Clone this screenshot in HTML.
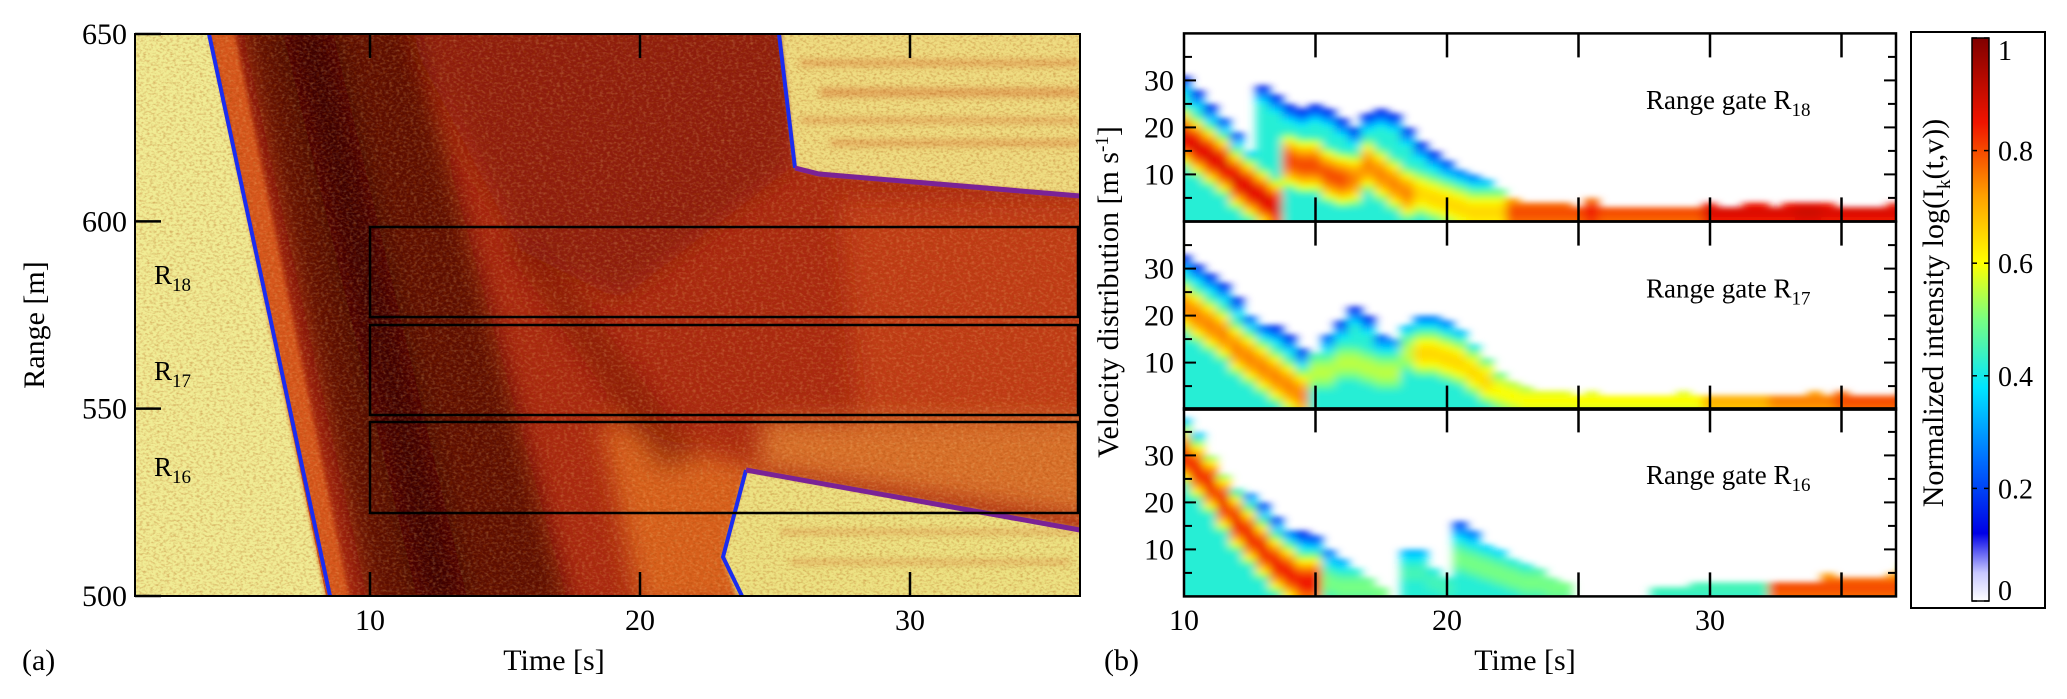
<!DOCTYPE html>
<html><head><meta charset="utf-8">
<style>
html,body{margin:0;padding:0;background:#fff;}
svg{display:block;}
text{font-family:"Liberation Serif",serif;fill:#000;}
</style></head>
<body>
<svg id="fig" width="2067" height="699" viewBox="0 0 2067 699" xmlns="http://www.w3.org/2000/svg">
<defs>
  <clipPath id="clipA"><rect x="135" y="34" width="945" height="562"/></clipPath>
  <filter id="soft" x="-5%" y="-5%" width="110%" height="110%"><feGaussianBlur stdDeviation="12"/></filter>
  <filter id="soft2"><feGaussianBlur stdDeviation="2.2"/></filter>
  <filter id="soft3"><feGaussianBlur stdDeviation="3.5"/></filter>
  <filter id="softB" x="-2%" y="-5%" width="104%" height="110%"><feGaussianBlur stdDeviation="5 3"/></filter>
  <filter id="noise" x="0" y="0" width="100%" height="100%">
    <feTurbulence type="fractalNoise" baseFrequency="0.3 0.45" numOctaves="2" seed="3"/>
    <feColorMatrix type="matrix" values="0 0 0 0 0.35  0 0 0 0 0.05  0 0 0 0 0  0 0 0 -2.2 1.25"/>
  </filter>
  <filter id="noiseL" x="0" y="0" width="100%" height="100%">
    <feTurbulence type="fractalNoise" baseFrequency="0.28 0.4" numOctaves="2" seed="9"/>
    <feColorMatrix type="matrix" values="0 0 0 0 1  0 0 0 0 0.75  0 0 0 0 0.3  0 0 0 -2.2 1.2"/>
  </filter>
  <linearGradient id="cbar" x1="0" y1="1" x2="0" y2="0">
    <stop offset="0" stop-color="#ffffff"/>
    <stop offset="0.05" stop-color="#c8c8ff"/>
    <stop offset="0.12" stop-color="#0000e6"/>
    <stop offset="0.25" stop-color="#006eff"/>
    <stop offset="0.38" stop-color="#00e6ff"/>
    <stop offset="0.5" stop-color="#78ff82"/>
    <stop offset="0.6" stop-color="#ffff00"/>
    <stop offset="0.72" stop-color="#ffa000"/>
    <stop offset="0.85" stop-color="#f01400"/>
    <stop offset="1" stop-color="#800000"/>
  </linearGradient>
</defs>

<g id="panelA">
  <g clip-path="url(#clipA)">
    <rect x="135" y="34" width="945" height="562" fill="#aa2810"/>
    <g filter="url(#soft)">
      <polygon points="400,20 800,20 790,168 620,300 520,250" fill="#8e1a0a"/>
      <polygon points="600,420 760,470 760,610 640,610" fill="#d8601c"/>
      <polygon points="840,200 1100,200 1100,420 860,420" fill="#c03a16"/>
      <polygon points="760,420 1100,420 1100,520 760,470" fill="#d8702a"/>
      <polygon points="240,20 410,20 570,610 370,610" fill="#5c0b05"/>
      <polygon points="280,20 330,20 470,610 420,610" fill="#3e0603"/>
      <polygon points="500,240 540,240 700,460 660,470" fill="#7a1408" opacity="0.6"/>
    </g>
    <polygon points="120,20 207,20 329,610 120,610" fill="#f0ec94"/>
    <polygon points="207,20 232,20 352,610 329,610" fill="#d6561a" filter="url(#soft2)"/>
    <polygon points="779,20 1100,20 1100,197 819,174 795,168" fill="#eedc80" filter="url(#soft2)"/>
    <polygon points="742,610 723,557 746,470 1100,532 1100,610" fill="#ece282" filter="url(#soft2)"/>
    <g fill="#d05a20" opacity="0.45" filter="url(#soft3)">
      <rect x="800" y="60" width="280" height="6"/><rect x="820" y="88" width="260" height="9"/>
      <rect x="800" y="118" width="280" height="5"/><rect x="830" y="140" width="250" height="6"/>
      <rect x="780" y="530" width="300" height="4"/><rect x="790" y="560" width="280" height="4"/>
    </g>
    <rect x="135" y="34" width="945" height="562" filter="url(#noise)" opacity="0.35"/>
    <rect x="135" y="34" width="945" height="562" filter="url(#noiseL)" opacity="0.25"/>
  </g>
  <polyline points="209,34 330,596" fill="none" stroke="#1a2cf0" stroke-width="4"/>
  <polyline points="779,34 795,168" fill="none" stroke="#1a2cf0" stroke-width="4"/>
  <polyline points="795,168 819,174 1080,196" fill="none" stroke="#7a2296" stroke-width="5"/>
  <polyline points="742,596 723,557 746,470" fill="none" stroke="#1a2cf0" stroke-width="4"/>
  <polyline points="746,470 1080,530" fill="none" stroke="#7a2296" stroke-width="5"/>
  <rect x="370" y="227" width="708" height="90" fill="none" stroke="#000" stroke-width="2.5"/>
  <rect x="370" y="325" width="708" height="90" fill="none" stroke="#000" stroke-width="2.5"/>
  <rect x="370" y="422" width="708" height="91" fill="none" stroke="#000" stroke-width="2.5"/>
  <rect x="135" y="34" width="945" height="562" fill="none" stroke="#000" stroke-width="2"/>
  <g id="axesA"></g>
  <text x="154" y="284" font-size="27">R<tspan font-size="19" dy="7">18</tspan></text>
  <text x="154" y="380" font-size="27">R<tspan font-size="19" dy="7">17</tspan></text>
  <text x="154" y="476" font-size="27">R<tspan font-size="19" dy="7">16</tspan></text>
  <text x="0" y="0" font-size="30" text-anchor="middle" transform="translate(44,325) rotate(-90)">Range [m]</text>
  <text x="554" y="670" font-size="30" text-anchor="middle">Time [s]</text>
  <text x="22" y="670" font-size="30">(a)</text>
</g>

<g id="panelB">
  <g id="heatB"></g>
  <g id="axesB"></g>
  <text x="0" y="0" font-size="30" text-anchor="middle" transform="translate(1118,292) rotate(-90)">Velocity distribution [m s<tspan font-size="19" dy="-10">-1</tspan><tspan dy="10">]</tspan></text>
  <text x="1525" y="670" font-size="30" text-anchor="middle">Time [s]</text>
  <text x="1104" y="670" font-size="30">(b)</text>
</g>

<g id="cb">
  <rect x="1911" y="32" width="134" height="576" fill="#fff" stroke="#000" stroke-width="2"/>
  <rect x="1972" y="38" width="17" height="563" fill="url(#cbar)" stroke="#000" stroke-width="1.5"/>
  <g id="cbTicks"></g>
  <text x="0" y="0" font-size="30" text-anchor="middle" transform="translate(1943,313) rotate(-90)">Normalized intensity log(I<tspan font-size="19" dy="7">k</tspan><tspan dy="-7">(t,v))</tspan></text>
</g>
</svg>

<script>
// ---- data ----
const leftXTicks = [10, 20, 30];
const leftYTicks = [650, 600, 550, 500];
const velXTicks = [10, 20, 30];
const velYTicks = [10, 20, 30];
const cbTicks = [0, 0.2, 0.4, 0.6, 0.8, 1];
const cbTickLabels = ["0", "0.2", "0.4", "0.6", "0.8", "1"];
const gateNames = ["R18", "R17", "R16"];
const gateSubs = ["18", "17", "16"];
const timeStart = 10, timeStep = 0.5;

const r18Top = [31,28,25,22,19,15,29,27, 25,24,25,24,22, 20,23,24,23,20, 17,15,13,11,10,9,7, 5,4,4,4,4,3,5,3,3,3,3,3,3,3,3, 4,3,3,4,4,3,4,4,4,4,3,3,3,3,4,3];
const r18Ridge = [18,16,14,12,9,7,5,3, 13,12,12,10,9, 9,12,10,8,6, 6,5,4,3,2,2,2, 2,2,2,2,2,2,2,2,2,2,2,2,2,2,2, 2,2,2,2,2,2,2,2,2,2,2,2,2,2,2,2];
const r18Peak = [0.88,0.88,0.88,0.88,0.88,0.88,0.88,0.88, 0.8,0.8,0.8,0.8,0.8, 0.75,0.75,0.75,0.75,0.75, 0.65,0.65,0.65,0.65,0.65,0.65,0.65, 0.8,0.8,0.8,0.8,0.8,0.8,0.85,0.8,0.8,0.8,0.8,0.8,0.8,0.8,0.8, 0.88,0.88,0.88,0.88,0.88,0.88,0.88,0.9,0.9,0.88,0.88,0.88,0.88,0.88,0.88,0.88];

const r17Top = [33,31,29,27,24,20,18,18, 16,13,12,16,19, 22,20,16,15,18, 20,20,19,17,14,11,8, 6,5,4,4,4,3,4,3,3,3,3,3,3,4,3, 3,3,3,3,3,3,3,3,4,3,4,3,3,3,3,5];
const r17Ridge = [22,20,18,16,13,11,9,7, 5,3,8,8,10, 10,9,8,8,12, 12,12,11,10,8,6,4, 3,2,2,2,2,2,2,2,2,2,2,2,2,2,2, 2,2,2,2,2,2,2,2,2,2,2,2,2,2,2,2];
const r17Peak = [0.75,0.75,0.75,0.75,0.75,0.75,0.75,0.75, 0.75,0.75,0.55,0.55,0.55, 0.55,0.55,0.55,0.55,0.55, 0.65,0.65,0.65,0.65,0.65,0.65,0.6, 0.6,0.6,0.6,0.6,0.6,0.6,0.6,0.6,0.6,0.6,0.6,0.6,0.6,0.6,0.6, 0.7,0.7,0.7,0.7,0.7,0.75,0.75,0.75,0.75,0.75,0.8,0.8,0.8,0.8,0.8,0.8];

const r16Top = [38,35,30,26,23,22,20,17, 14,14,13,10,8, 6,4,2,0,10, 10,6,4,16,14,11,10, 8,7,6,4,3,0,0,0,0,0,0,2,2,2,3, 3,3,3,3,3,3,3,3,3,5,4,4,4,4,5,7];
const r16Ridge = [30,27,24,20,16,13,10,7, 5,3,3,3,2, 2,2,1,0,5, 5,3,2,8,7,6,5, 4,3,3,2,2,0,0,0,0,0,0,2,2,2,2, 2,2,2,2,2,2,2,2,2,2,2,2,2,2,2,2];
const r16Peak = [0.85,0.85,0.85,0.85,0.85,0.85,0.85,0.85, 0.85,0.85,0.85,0.5,0.5, 0.5,0.5,0.5,0.5,0.45, 0.45,0.45,0.45,0.5,0.5,0.5,0.5, 0.5,0.5,0.5,0.5,0.5,0,0,0,0,0,0,0.45,0.45,0.45,0.45, 0.45,0.45,0.45,0.45,0.45,0.8,0.8,0.8,0.8,0.8,0.8,0.8,0.8,0.8,0.8,0.8];

const gateTops = [r18Top, r17Top, r16Top];
const gateRidges = [r18Ridge, r17Ridge, r16Ridge];
const gatePeaks = [r18Peak, r17Peak, r16Peak];

const NS = "http://www.w3.org/2000/svg";
function mk(tag, attrs, parent) {
  const e = document.createElementNS(NS, tag);
  for (const k in attrs) e.setAttribute(k, attrs[k]);
  parent.appendChild(e);
  return e;
}
const ax = t => 370 + (t - 10) * 27;
const ay = r => 34 + (650 - r) * (562 / 150);
const bx = t => 1184 + (t - 10) * 26.3;
const subTop = [33.4, 221.6, 408.4];
const subH = 188;
const by = (k, v) => subTop[k] + subH - v * (subH / 40);

const axesA = document.getElementById('axesA');
leftXTicks.forEach(t => {
  const x = ax(t);
  let l = mk('line', {x1: x, x2: x, y1: 596, y2: 572, stroke: '#000', 'stroke-width': 2.5}, axesA);
  
  
  l = mk('line', {x1: x, x2: x, y1: 34, y2: 58, stroke: '#000', 'stroke-width': 2.5}, axesA);
  
  
  const tx = mk('text', {x: x, y: 630, 'font-size': 30, 'text-anchor': 'middle'}, axesA);
  tx.textContent = t;
  
  
});
leftYTicks.forEach(r => {
  const y = ay(r);
  const l = mk('line', {x1: 135, x2: 161, y1: y, y2: y, stroke: '#000', 'stroke-width': 2.5}, axesA);
  
  
  const tx = mk('text', {x: 127, y: y + 10, 'font-size': 30, 'text-anchor': 'end'}, axesA);
  tx.textContent = r;
  
  
});

const stops = [[0,[255,255,255]],[0.05,[200,200,255]],[0.12,[0,0,230]],[0.25,[0,110,255]],[0.38,[0,230,255]],[0.5,[120,255,130]],[0.6,[255,255,0]],[0.72,[255,160,0]],[0.85,[240,20,0]],[1,[128,0,0]]];
function cmap(v) {
  v = Math.max(0, Math.min(1, v));
  for (let i = 1; i < stops.length; i++) {
    if (v <= stops[i][0]) {
      const [a, ca] = stops[i-1], [b, cb] = stops[i];
      const f = (v - a) / (b - a);
      return 'rgb(' + ca.map((c, j) => Math.round(c + (cb[j] - c) * f)).join(',') + ')';
    }
  }
  return 'rgb(128,0,0)';
}
const heatB = document.getElementById('heatB');
const axesB = document.getElementById('axesB');
for (let k = 0; k < 3; k++) {
  const cp = mk('clipPath', {id: 'clipB' + k}, document.querySelector('defs'));
  mk('rect', {x: 1184, y: subTop[k], width: 712, height: subH}, cp);
  const outer = mk('g', {'clip-path': 'url(#clipB' + k + ')'}, heatB);
  
  
  const g = mk('g', {filter: 'url(#softB)'}, outer);
  const tops = gateTops[k], ridges = gateRidges[k], peaks = gatePeaks[k];
  for (let i = 0; i < tops.length; i++) {
    const t = timeStart + i * timeStep;
    const x0 = bx(t - timeStep / 2), x1 = bx(t + timeStep / 2);
    const top = tops[i];
    for (let v = -2; v < 40; v++) {
      const vc = Math.max(0, v) + 0.5;
      if (vc > top || top <= 0) continue;
      const base = 0.12 + 0.3 * Math.min(1, (top - vc) / 4);
      const ridgeVal = peaks[i] * Math.exp(-Math.pow((vc - ridges[i]) / 8, 2));
      const val = Math.max(base, ridgeVal);
      const c = mk('rect', {x: x0 - 0.5, y: by(k, v + 1), width: x1 - x0 + 1, height: subH / 40 + 0.5, fill: cmap(val)}, g);
      
      
    }
  }
  const fr = mk('rect', {x: 1184, y: subTop[k], width: 712, height: subH, fill: 'none', stroke: '#000', 'stroke-width': 2.5}, axesB);
  
  
  for (let t = 15; t <= 35; t += 5) {
    const x = bx(t);
    let l = mk('line', {x1: x, x2: x, y1: subTop[k] + subH, y2: subTop[k] + subH - 24, stroke: '#000', 'stroke-width': 2.5}, axesB);
    
    
    l = mk('line', {x1: x, x2: x, y1: subTop[k], y2: subTop[k] + 24, stroke: '#000', 'stroke-width': 2.5}, axesB);
    
    
  }
  for (let v = 5; v <= 35; v += 5) {
    const y = by(k, v);
    const len = v % 10 === 0 ? 12 : 8;
    let l = mk('line', {x1: 1184, x2: 1184 + len, y1: y, y2: y, stroke: '#000', 'stroke-width': 2}, axesB);
    
    
    l = mk('line', {x1: 1896, x2: 1896 - len, y1: y, y2: y, stroke: '#000', 'stroke-width': 2}, axesB);
    
    
  }
  velYTicks.forEach(v => {
    const tx = mk('text', {x: 1174, y: by(k, v) + 10, 'font-size': 30, 'text-anchor': 'end'}, axesB);
    tx.textContent = v;
    
    
  });
  const lbl = mk('text', {x: 1646, y: by(k, 26) + 10, 'font-size': 27}, axesB);
  
  
  lbl.appendChild(document.createTextNode('Range gate R'));
  const sub = mk('tspan', {'font-size': 19, dy: 7}, lbl);
  sub.textContent = gateSubs[k];
}
velXTicks.forEach(t => {
  const tx = mk('text', {x: bx(t), y: 630, 'font-size': 30, 'text-anchor': 'middle'}, axesB);
  tx.textContent = t;
  
  
});

const cbG = document.getElementById('cbTicks');
const cy = v => 601 - v * 563;
cbTicks.forEach((v, i) => {
  const y = cy(v);
  let l = mk('line', {x1: 1972, x2: 1977, y1: y, y2: y, stroke: '#000', 'stroke-width': 1.5}, cbG);
  
  
  l = mk('line', {x1: 1989, x2: 1984, y1: y, y2: y, stroke: '#000', 'stroke-width': 1.5}, cbG);
  
  
  const tx = mk('text', {x: 1998, y: Math.min(Math.max(y + 10, 60), 600), 'font-size': 28}, cbG);
  tx.textContent = cbTickLabels[i];
  
  
});
</script>
</body></html>
